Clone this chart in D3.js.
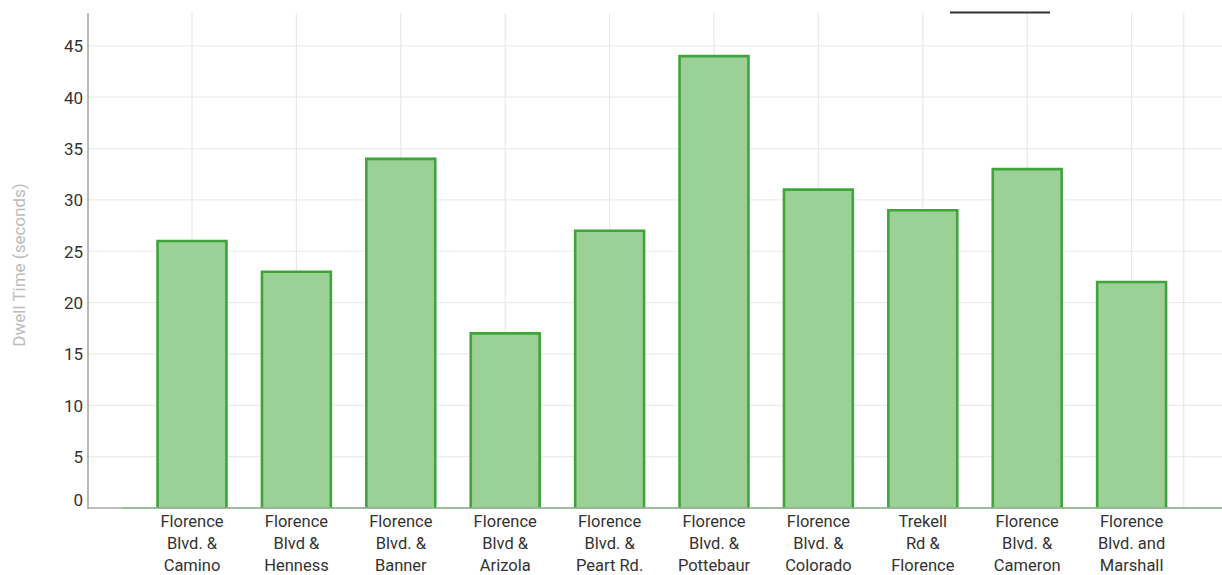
<!DOCTYPE html>
<html><head><meta charset="utf-8">
<script src="https://cdn.jsdelivr.net/npm/d3@7"></script>
<style>body{margin:0;background:#fff;}svg{display:block;font-family:Roboto,"Noto Sans",sans-serif;}</style>
</head><body>
<svg id="c" width="1222" height="575"></svg>
<script>
const categories = [
  ["Florence","Blvd. &","Camino"],
  ["Florence","Blvd &","Henness"],
  ["Florence","Blvd. &","Banner"],
  ["Florence","Blvd &","Arizola"],
  ["Florence","Blvd. &","Peart Rd."],
  ["Florence","Blvd. &","Pottebaur"],
  ["Florence","Blvd. &","Colorado"],
  ["Trekell","Rd &","Florence"],
  ["Florence","Blvd. &","Cameron"],
  ["Florence","Blvd. and","Marshall"]
];
const dwell = [26, 23, 34, 17, 27, 44, 31, 29, 33, 22];
const yTicks = [0, 5, 10, 15, 20, 25, 30, 35, 40, 45];
const yTitle = "Dwell Time (seconds)";

const svg = d3.select("#c");
const keys = categories.map(c => c.join(" "));
const axisX = 88, plotTop = 13, plotBottom = 508;
const x = d3.scaleBand().domain(keys).range([139.8, 1183.8]).paddingInner(0).paddingOuter(0);
const y = d3.scaleLinear().domain([0, 48.2]).range([plotBottom, plotTop]);
const bw = x.bandwidth() * 0.66;

// horizontal grid
svg.append("g").selectAll("line").data(yTicks.filter(d => d > 0)).join("line")
  .attr("x1", axisX).attr("x2", 1222).attr("y1", d => y(d)).attr("y2", d => y(d))
  .attr("stroke", "#ececec").attr("stroke-width", 1.2);
// vertical grid at band centers and right edge
const vx = keys.map(k => x(k) + x.bandwidth() / 2).concat([x.range()[1]]);
svg.append("g").selectAll("line").data(vx).join("line")
  .attr("x1", d => d).attr("x2", d => d).attr("y1", plotTop).attr("y2", plotBottom)
  .attr("stroke", "#e8e8e8").attr("stroke-width", 1.2);

// bars
svg.append("g").selectAll("rect").data(dwell).join("rect")
  .attr("x", (d, i) => x(keys[i]) + (x.bandwidth() - bw) / 2)
  .attr("y", d => y(d)).attr("width", bw).attr("height", d => plotBottom - y(d))
  .attr("fill", "#9bd096");
svg.append("g").selectAll("path").data(dwell).join("path")
  .attr("d", (d, i) => {
    const x0 = x(keys[i]) + (x.bandwidth() - bw) / 2, x1 = x0 + bw, yt = y(d);
    return `M${x0},${plotBottom}V${yt}H${x1}V${plotBottom}`;
  })
  .attr("fill", "none").attr("stroke", "#3fa53b").attr("stroke-width", 2.6);

// x baseline
svg.append("line").attr("x1", axisX).attr("x2", 1222).attr("y1", plotBottom).attr("y2", plotBottom)
  .attr("stroke", "#a8a8a8").attr("stroke-width", 1.5);
svg.append("line").attr("x1", 122).attr("x2", 1222).attr("y1", plotBottom).attr("y2", plotBottom)
  .attr("stroke", "#6bb868").attr("stroke-width", 1.2).attr("opacity", 0.7);
// y axis line
svg.append("line").attr("x1", axisX).attr("x2", axisX).attr("y1", plotTop).attr("y2", plotBottom + 1)
  .attr("stroke", "#a8a8a8").attr("stroke-width", 1.6);

// y tick labels
svg.append("g").selectAll("text").data(yTicks).join("text")
  .attr("x", 83).attr("y", d => d === 0 ? y(d) - 6 : y(d) + 2)
  .attr("text-anchor", "end").attr("dominant-baseline", "middle")
  .attr("font-size", 17).attr("fill", "#333").text(d => d);

// x labels
const xl = svg.append("g").selectAll("text").data(categories).join("text")
  .attr("text-anchor", "middle").attr("font-size", 16.5).attr("fill", "#333")
  .attr("transform", (d, i) => `translate(${x(keys[i]) + x.bandwidth() / 2},0)`);
xl.selectAll("tspan").data(d => d).join("tspan")
  .attr("x", 0).attr("y", (d, j) => 527 + j * 22).text(d => d);

// y title
svg.append("text").attr("transform", `translate(25,${265}) rotate(-90)`)
  .attr("text-anchor", "middle").attr("font-size", 17).attr("fill", "#bbb").text(yTitle);

// legend stroke at top
svg.append("line").attr("x1", 950).attr("x2", 1050).attr("y1", 12.5).attr("y2", 12.5)
  .attr("stroke", "#333").attr("stroke-width", 2);
</script>
</body></html>
